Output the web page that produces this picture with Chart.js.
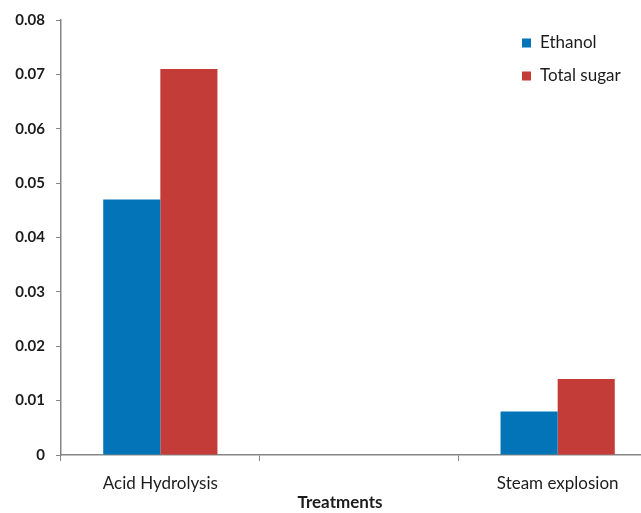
<!DOCTYPE html>
<html>
<head>
<meta charset="utf-8">
<script src="https://cdn.jsdelivr.net/npm/chart.js@4"></script>
<style>
  html, body { margin: 0; padding: 0; background: #fff; }
  #wrap { width: 641px; height: 513px; overflow: hidden; position: relative; }
  #wrap canvas { position: absolute; left: 0; top: 0; }
</style>
</head>
<body>
<div id="wrap"><canvas id="c" width="660" height="513"></canvas></div>
<script>
// Treatments along the x axis (the middle slot is left empty)
const categories = ['Acid Hydrolysis', '', 'Steam explosion'];
const ethanol = [0.047, null, 0.008];
const totalSugar = [0.071, null, 0.014];
const seriesNames = ['Ethanol', 'Total sugar'];
const yTicks = [0, 0.01, 0.02, 0.03, 0.04, 0.05, 0.06, 0.07, 0.08];
const xTitle = 'Treatments';

const BLUE = '#0474B8';
const RED = '#C43C38';
const AXIS = '#868686';
const TEXT = '#1c1c1c';
const FONT = 'Lato, "Open Sans", sans-serif';

// Legend drawn inside the plot, in the upper right corner
const insideLegend = {
  id: 'insideLegend',
  afterDraw(chart) {
    const ctx = chart.ctx;
    ctx.save();
    ctx.font = '17px ' + FONT;
    ctx.textBaseline = 'middle';
    chart.data.datasets.forEach((ds, i) => {
      const y = 43 + i * 33;
      ctx.fillStyle = ds.backgroundColor;
      ctx.fillRect(522, y - 4.5, 9, 9);
      ctx.fillStyle = TEXT;
      ctx.fillText(ds.label, 540, y);
    });
    ctx.restore();
  }
};

// Axis title placed under the category labels
const axisTitle = {
  id: 'axisTitle',
  afterDraw(chart) {
    const ctx = chart.ctx;
    ctx.save();
    ctx.font = 'bold 17px ' + FONT;
    ctx.fillStyle = TEXT;
    ctx.textAlign = 'center';
    ctx.textBaseline = 'middle';
    ctx.fillText(xTitle, 340, 503);
    ctx.restore();
  }
};

new Chart(document.getElementById('c'), {
  type: 'bar',
  data: {
    labels: categories,
    datasets: [
      { label: seriesNames[0], data: ethanol, backgroundColor: BLUE },
      { label: seriesNames[1], data: totalSugar, backgroundColor: RED }
    ]
  },
  options: {
    responsive: false,
    animation: false,
    layout: { padding: { top: 20, right: 3, left: 0, bottom: 0 } },
    datasets: { bar: { categoryPercentage: 0.575, barPercentage: 1.0 } },
    plugins: { legend: { display: false }, tooltip: { enabled: false } },
    scales: {
      x: {
        offset: true,
        grid: { display: true, drawOnChartArea: false, offset: true, tickLength: 6, color: AXIS },
        border: { color: AXIS, width: 1.5 },
        ticks: { color: TEXT, font: { family: FONT, size: 17 }, padding: 12, maxRotation: 0 },
        afterFit(s) { s.height = 58; }
      },
      y: {
        min: 0, max: 0.08,
        afterBuildTicks(s) { s.ticks = yTicks.map(v => ({ value: v })); },
        grid: { display: true, drawOnChartArea: false, tickLength: 5, color: AXIS },
        border: { color: AXIS, width: 1.5 },
        ticks: {
          color: TEXT, font: { family: FONT, size: 15, weight: 'bold' }, padding: 11,
          callback: v => (v === 0 ? '0' : v.toFixed(2))
        },
        afterFit(s) { s.width = 61; }
      }
    }
  },
  plugins: [insideLegend, axisTitle]
});
</script>
</body>
</html>
